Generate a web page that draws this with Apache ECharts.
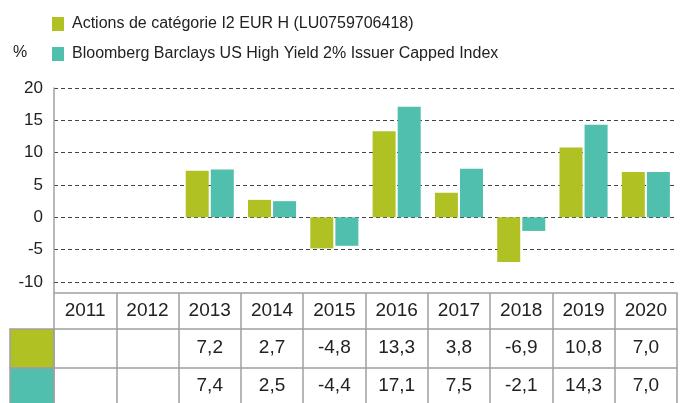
<!DOCTYPE html>
<html>
<head>
<meta charset="utf-8">
<script src="https://cdn.jsdelivr.net/npm/echarts@6/dist/echarts.min.js"></script>
<style>
  html, body { margin: 0; padding: 0; background: #fff; }
  #chart { width: 680px; height: 403px; }
</style>
</head>
<body>
<div id="chart"></div>
<script>
const years = ["2011", "2012", "2013", "2014", "2015", "2016", "2017", "2018", "2019", "2020"];
const fundName = "Actions de catégorie I2 EUR H (LU0759706418)";
const indexName = "Bloomberg Barclays US High Yield 2% Issuer Capped Index";
const fundValues = [null, null, 7.2, 2.7, -4.8, 13.3, 3.8, -6.9, 10.8, 7.0];
const indexValues = [null, null, 7.4, 2.5, -4.4, 17.1, 7.5, -2.1, 14.3, 7.0];
const yTicks = { min: -10, max: 20, step: 5 };

const green = "#b0c124";
const teal = "#50bfae";
const lineGray = "#a0a0a0";
const font = "Liberation Sans";

// valeurs affichées avec une virgule, comme dans le tableau d'origine
function fmt(v) {
  return v == null ? "" : v.toFixed(1).replace(".", ",");
}

const chart = echarts.init(document.getElementById("chart"));

// axe de table: une ligne horizontale + une rangée de libellés
function tableAxis(offset, margin, labelOf, ticks) {
  return {
    type: "category",
    data: years,
    position: "bottom",
    offset: offset,
    axisLine: { show: true, lineStyle: { color: lineGray, width: 1.5 } },
    axisTick: ticks
      ? { show: true, length: 110, lineStyle: { color: lineGray, width: 1.5 } }
      : { show: false },
    axisLabel: {
      margin: margin,
      fontFamily: font,
      fontSize: 19,
      color: "#222",
      interval: 0,
      formatter: labelOf
    },
    splitLine: { show: false }
  };
}

chart.setOption({
  animation: false,
  textStyle: { fontFamily: font },
  legend: {
    orient: "vertical",
    left: 47,
    top: 9,
    itemWidth: 12,
    itemHeight: 14,
    itemGap: 10,
    icon: "rect",
    textStyle: { fontFamily: font, fontSize: 16, color: "#222", lineHeight: 20, padding: [0, 0, 0, 3] },
    data: [fundName, indexName]
  },
  grid: { left: 54, right: 3, top: 88, bottom: 121 },
  xAxis: [
    {
      type: "category",
      data: years,
      axisLine: { show: false },
      axisTick: { show: false },
      axisLabel: { show: false }
    },
    tableAxis(11, 8, (v) => v, true),
    tableAxis(47, 9, (v, i) => fmt(fundValues[i]), false),
    tableAxis(86, 8, (v, i) => fmt(indexValues[i]), false)
  ],
  yAxis: {
    type: "value",
    min: yTicks.min,
    max: yTicks.max,
    interval: yTicks.step,
    axisLine: { show: true, lineStyle: { color: lineGray, width: 1.5 } },
    axisTick: { show: false },
    axisLabel: { margin: 11, fontFamily: font, fontSize: 17, color: "#222" },
    splitLine: { show: true, lineStyle: { color: "#444", type: [4, 3], width: 1 } }
  },
  series: [
    {
      name: fundName,
      type: "bar",
      xAxisIndex: 0,
      data: fundValues,
      barWidth: 23,
      barGap: "9%",
      itemStyle: { color: green }
    },
    {
      name: indexName,
      type: "bar",
      xAxisIndex: 0,
      data: indexValues,
      barWidth: 23,
      itemStyle: { color: teal }
    }
  ],
  graphic: [
    { type: "text", left: 13, top: 45, style: { text: "%", font: "16px " + font, fill: "#222" } },
    { type: "line", shape: { x1: 54, y1: 282, x2: 54, y2: 293 }, style: { stroke: lineGray, lineWidth: 1.5 } },
    { type: "rect", shape: { x: 10, y: 329, width: 44, height: 39 }, style: { fill: green, stroke: lineGray, lineWidth: 1.5 } },
    { type: "rect", shape: { x: 10, y: 368, width: 44, height: 40 }, style: { fill: teal, stroke: lineGray, lineWidth: 1.5 } }
  ]
});
</script>
</body>
</html>
